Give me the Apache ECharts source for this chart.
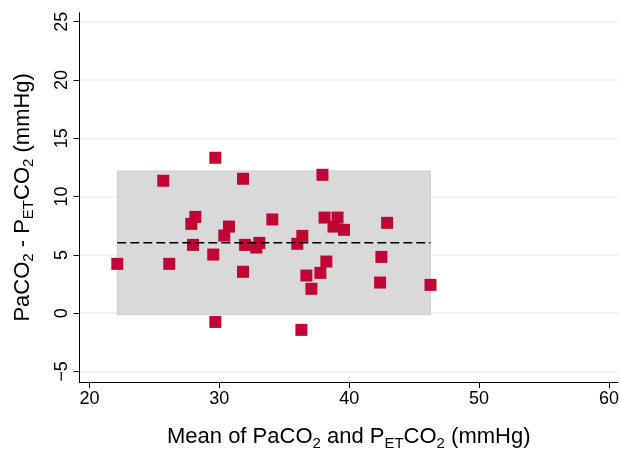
<!DOCTYPE html>
<html>
<head>
<meta charset="utf-8">
<title>Bland-Altman: PaCO2 vs PETCO2</title>
<script src="https://cdn.jsdelivr.net/npm/echarts@6/dist/echarts.min.js"></script>
<style>
  html, body { margin: 0; padding: 0; background: #ffffff; }
  #chart { width: 621px; height: 450px; }
</style>
</head>
<body>
<div id="chart"></div>
<script>
// Mean of the two measurements (mmHg)
const meanValues = [
  22.14, 25.68, 26.14, 27.84, 28.15, 27.97, 29.69, 29.69, 29.53, 30.38, 30.74,
  31.82, 31.98, 31.82, 32.85, 33.08, 34.08, 36.00, 36.39, 36.32, 36.70, 37.09,
  37.78, 37.94, 38.10, 38.24, 38.79, 39.10, 39.60, 42.38, 42.48, 42.92, 46.26
];
// Difference PaCO2 - PETCO2 (mmHg)
const diffValues = [
  4.23, 11.36, 4.23, 7.66, 8.26, 5.86, 13.33, -0.75, 5.03, 6.66, 7.43,
  11.53, 5.86, 3.55, 5.63, 6.03, 8.04, 5.95, 6.63, -1.43, 3.23, 2.09,
  3.46, 11.87, 8.20, 4.43, 7.43, 8.20, 7.15, 2.63, 4.83, 7.75, 2.43
];
// Bias and limits of agreement
const biasMean = 6.04;
const limitLower = -0.13;
const limitUpper = 12.2;

const xTicks = [20, 30, 40, 50, 60];
const yTicks = [-5, 0, 5, 10, 15, 20, 25];

const points = meanValues.map((m, i) => [m, diffValues[i]]);
const xLo = Math.min(...meanValues);
const xHi = Math.max(...meanValues);

const FONT = '"Liberation Sans", Arial, Helvetica, sans-serif';

const titleRich = {
  n: { fontSize: 22, fontFamily: FONT, color: '#000', lineHeight: 28 },
  s: { fontSize: 15, fontFamily: FONT, color: '#000', lineHeight: 16, verticalAlign: 'bottom' }
};

const chart = echarts.init(document.getElementById('chart'), null, { renderer: 'canvas' });

chart.setOption({
  animation: false,
  backgroundColor: '#ffffff',
  grid: { left: 79.5, right: 3, top: 12.7, bottom: 68, containLabel: false, outerBoundsMode: 'none' },
  xAxis: {
    type: 'value',
    min: 19.23,
    max: 60.7,
    name: '{n|Mean of PaCO}{s|2}{n| and P}{s|ET}{n|CO}{s|2}{n| (mmHg)}',
    nameLocation: 'middle',
    nameGap: 41,
    nameTextStyle: { rich: titleRich },
    axisLine: { show: true, onZero: false, lineStyle: { color: '#000', width: 1 } },
    axisTick: { show: true, length: 6, customValues: xTicks, lineStyle: { color: '#000' } },
    axisLabel: {
      customValues: xTicks,
      fontSize: 18, fontFamily: FONT, color: '#000', margin: 8
    },
    splitLine: { show: false }
  },
  yAxis: {
    type: 'value',
    min: -5.9,
    max: 25.77,
    name: '{n|PaCO}{s|2}{n| - P}{s|ET}{n|CO}{s|2}{n| (mmHg)}',
    nameLocation: 'middle',
    nameRotate: 90,
    nameGap: 43,
    nameTextStyle: { rich: titleRich },
    axisLine: { show: true, onZero: false, lineStyle: { color: '#000', width: 1 } },
    axisTick: { show: true, length: 6, customValues: yTicks, lineStyle: { color: '#000' } },
    axisLabel: {
      customValues: yTicks,
      rotate: 90,
      fontSize: 18, fontFamily: FONT, color: '#000', margin: 8,
      formatter: v => (v < 0 ? '\u2212' + Math.abs(v) : String(v))
    },
    splitLine: { show: true, lineStyle: { color: '#ebf1f4', width: 1.5 } }
  },
  series: [
    {
      // limits-of-agreement band
      type: 'scatter',
      data: [],
      z: 1,
      silent: true,
      markArea: {
        silent: true,
        itemStyle: { color: '#d9d9d9', borderColor: '#cdcdcd', borderWidth: 1 },
        data: [[{ coord: [xLo, limitLower] }, { coord: [xHi, limitUpper] }]]
      }
    },
    {
      type: 'scatter',
      data: points,
      z: 3,
      symbol: 'rect',
      symbolSize: 12,
      itemStyle: { color: '#c10534', opacity: 1 }
    },
    {
      // mean difference
      type: 'line',
      data: [[xLo, biasMean], [xHi, biasMean]],
      z: 5,
      symbol: 'none',
      silent: true,
      lineStyle: { color: '#000', width: 1.5, type: [9, 4] }
    }
  ]
});
</script>
</body>
</html>
